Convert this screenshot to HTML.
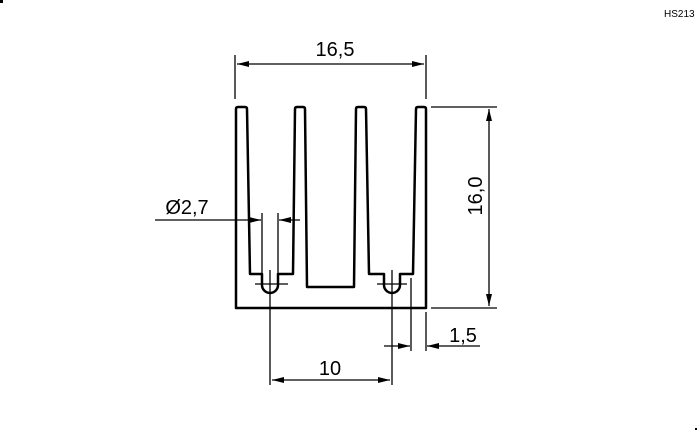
<!DOCTYPE html>
<html><head><style>html,body{margin:0;padding:0;background:#fff}svg{display:block}</style></head>
<body>
<svg width="700" height="433" viewBox="0 0 700 433" xmlns="http://www.w3.org/2000/svg">
<defs>
<marker id="a" viewBox="0 0 12 6" refX="12" refY="3" markerWidth="12" markerHeight="6" markerUnits="userSpaceOnUse" orient="auto-start-reverse"><path d="M0,0 L12,3 L0,6 z" fill="#000"/></marker>
</defs>
<rect x="0" y="0" width="3" height="3" fill="#000"/>
<rect x="695" y="428" width="2" height="2" fill="#000"/>
<text x="664" y="17" font-family="Liberation Sans, sans-serif" font-size="10" fill="#000">HS213</text>
<g fill="none" stroke="#000" stroke-width="2.5" stroke-linejoin="round">
<path d="M236,308 L236,109 Q236,107 238,107 L245,107 Q247,107 247,109 L250,274 L262,274 L262,285 A8,8 0 0 0 278,285 L278,274 L293,274 L295,109 Q295,107 297,107 L303,107 Q305,107 305,109 L307,287 L354,287 L356,109 Q356,107 358,107 L364,107 Q366,107 366,109 L369,274 L384,274 L384,285 A8,8 0 0 0 400,285 L400,274 L413,274 L416,109 Q416,107 418,107 L424,107 Q426,107 426,109 L426,308 Z"/>
</g>
<g stroke="#000" stroke-width="1.3" fill="none">
<line x1="235" y1="55" x2="235" y2="99"/>
<line x1="426" y1="55" x2="426" y2="99"/>
<line x1="237" y1="64" x2="424" y2="64" marker-start="url(#a)" marker-end="url(#a)"/>
<line x1="431" y1="107" x2="497" y2="107"/>
<line x1="431" y1="308" x2="497" y2="308"/>
<line x1="489" y1="109" x2="489" y2="306" marker-start="url(#a)" marker-end="url(#a)"/>
<line x1="155" y1="220" x2="250" y2="220"/>
<line x1="250" y1="220" x2="261" y2="220" marker-end="url(#a)"/>
<line x1="300" y1="220" x2="279" y2="220" marker-end="url(#a)"/>
<line x1="262" y1="213" x2="262" y2="276"/>
<line x1="278" y1="213" x2="278" y2="276"/>
<line x1="255" y1="284" x2="288" y2="284"/>
<line x1="377" y1="284" x2="407" y2="284"/>
<line x1="270" y1="270" x2="270" y2="385"/>
<line x1="392" y1="270" x2="392" y2="385"/>
<line x1="272" y1="380" x2="390" y2="380" marker-start="url(#a)" marker-end="url(#a)"/>
<line x1="411" y1="278" x2="411" y2="351"/>
<line x1="426" y1="312" x2="426" y2="351"/>
<line x1="384" y1="346" x2="410" y2="346" marker-end="url(#a)"/>
<line x1="480" y1="346" x2="427" y2="346" marker-end="url(#a)"/>
</g>
<g font-family="Liberation Sans, sans-serif" font-size="20" fill="#000">
<text x="335" y="56" text-anchor="middle">16,5</text>
<text x="187" y="214" text-anchor="middle">Ø2,7</text>
<text x="330" y="375" text-anchor="middle">10</text>
<text x="463" y="342" text-anchor="middle">1,5</text>
<text x="482" y="196" text-anchor="middle" transform="rotate(-90 482 196)">16,0</text>
</g>
</svg>
</body></html>
